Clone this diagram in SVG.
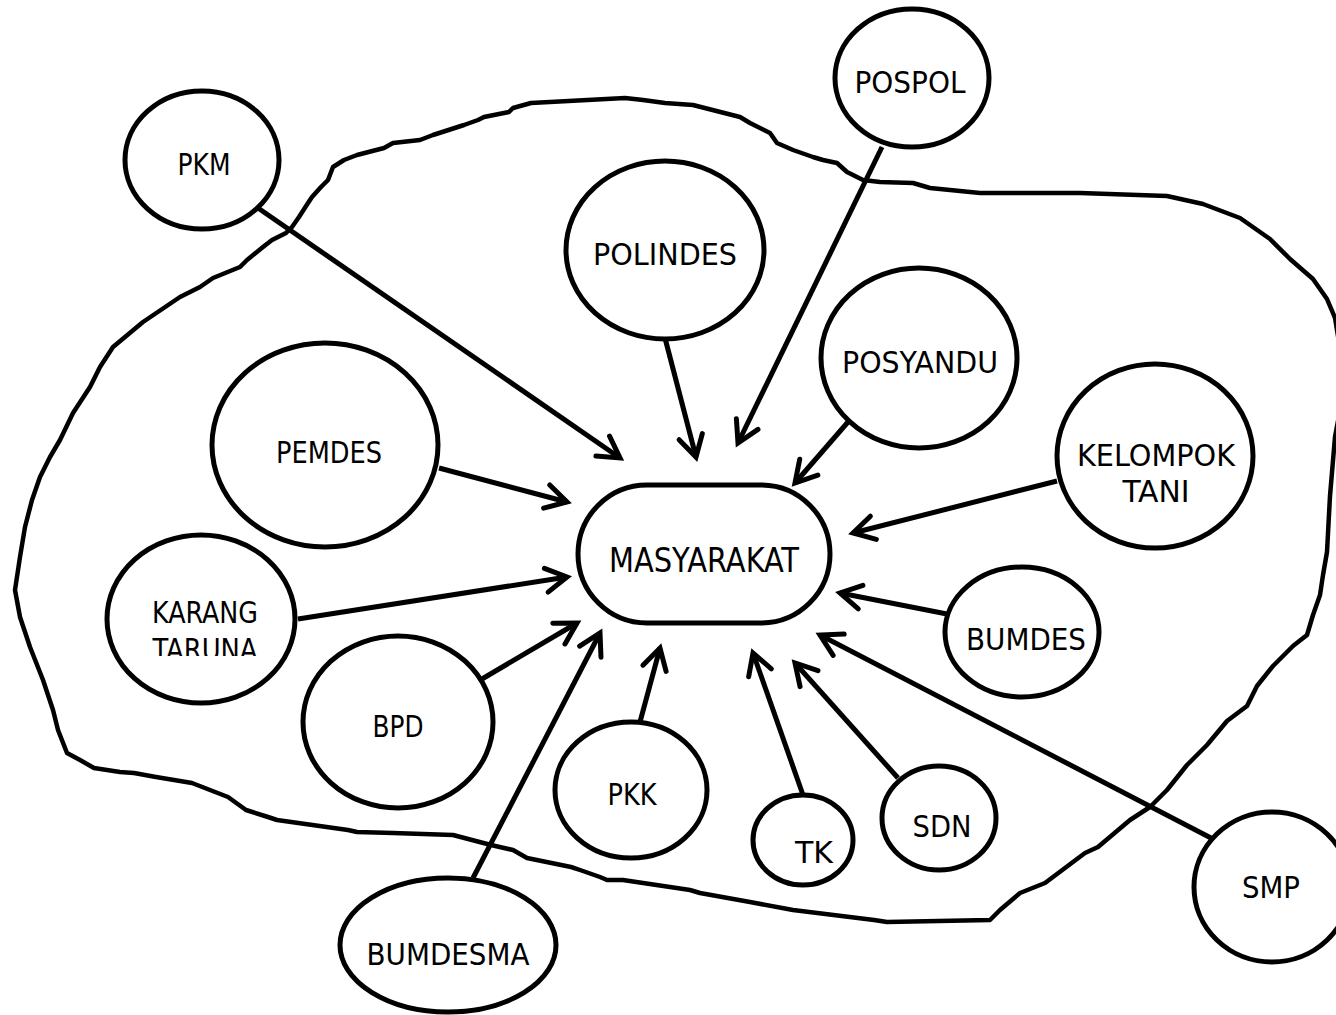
<svg xmlns="http://www.w3.org/2000/svg" width="1336" height="1015" viewBox="0 0 1336 1015">
<style>
.node{fill:#fff;stroke:#000;stroke-width:5}
.lbl{font-family:"DejaVu Sans Condensed","DejaVu Sans",sans-serif;font-stretch:condensed;font-size:30px;fill:#000;text-anchor:middle}
.edge{stroke:#000;stroke-width:5;fill:none;marker-end:url(#arr)}
.bound{fill:none;stroke:#000;stroke-width:4.5;stroke-linejoin:round}
</style>
<defs>
<marker id="arr" markerUnits="userSpaceOnUse" viewBox="-30 -20 40 40" markerWidth="40" markerHeight="40" refX="0" refY="0" orient="auto" overflow="visible">
<path d="M-21,-12 L0,0 L-21,12" fill="none" stroke="#000" stroke-width="5" stroke-linecap="round" stroke-linejoin="miter"/>
</marker>
<clipPath id="clipTaruna"><rect x="100" y="600" width="210" height="56"/></clipPath>
</defs>
<rect width="1336" height="1015" fill="#fff"/>
<polygon class="bound" points="531,103 625,98 643,100 665,103 693,105 740,117 750,123 770,133 777,143 793,150 813,157 823,160 837,163 847,172 863,180 880,182 913,183 930,188 980,193 1080,193 1167,196 1203,204 1240,218 1270,239 1290,259 1313,279 1327,299 1335,318 1342,360 1342,400 1335,437 1330,496 1327,552 1323,575 1320,595 1313,615 1307,635 1293,646 1273,666 1257,686 1247,706 1227,721 1207,745 1187,765 1167,790 1150,807 1130,820 1098,847 1085,853 1045,883 1020,893 1000,910 990,920 887,922 874,920 793,910 750,902 700,893 690,890 623,880 607,880 600,877 580,870 571,867 527,858 513,850 491,845 453,835 393,833 357,832 348,830 277,820 268,817 246,810 228,797 210,790 192,783 156,777 134,773 120,772 94,768 80,760 67,753 58,730 53,710 43,680 30,647 20,617 15,590 20,557 25,527 32,500 40,477 50,457 60,440 73,413 90,387 100,367 113,347 143,322 180,297 200,287 213,278 240,267 247,260 263,247 272,240 286,233 292,227 299,217 308,203 312,197 321,187 328,180 333,167 344,160 357,155 384,148 393,143 420,140 433,135 464,125 478,120 484,117 509,112 513,108"/>
<g id="connectors">
<line class="edge" x1="258" y1="208" x2="620" y2="458"/>
<line class="edge" x1="665" y1="338" x2="696" y2="457"/>
<line class="edge" x1="882" y1="147" x2="738" y2="443"/>
<line class="edge" x1="848" y1="422" x2="795" y2="483"/>
<line class="edge" x1="1057" y1="481" x2="853" y2="533"/>
<line class="edge" x1="947" y1="614" x2="840" y2="593"/>
<line class="edge" x1="1211" y1="838" x2="820" y2="635"/>
<line class="edge" x1="898" y1="778" x2="795" y2="663"/>
<line class="edge" x1="803" y1="795" x2="753" y2="653"/>
<line class="edge" x1="640" y1="722" x2="660" y2="648"/>
<line class="edge" x1="473" y1="878" x2="600" y2="633"/>
<line class="edge" x1="482" y1="679" x2="577" y2="623"/>
<line class="edge" x1="298" y1="619" x2="567" y2="577"/>
<line class="edge" x1="439" y1="468" x2="567" y2="502"/>
</g>
<g id="masyarakat"><rect class="node" x="578" y="485" width="252" height="138" rx="69" ry="69"/><text class="lbl" x="704" y="572" style="font-size:33px" textLength="190" lengthAdjust="spacingAndGlyphs">MASYARAKAT</text></g>
<g id="pkm"><ellipse class="node" cx="202" cy="160" rx="77" ry="69"/><text class="lbl" x="204" y="175" textLength="53" lengthAdjust="spacingAndGlyphs">PKM</text></g>
<g id="pospol"><ellipse class="node" cx="912" cy="78" rx="77" ry="69"/><text class="lbl" x="910" y="93" textLength="111" lengthAdjust="spacingAndGlyphs">POSPOL</text></g>
<g id="polindes"><ellipse class="node" cx="665" cy="250" rx="99" ry="89"/><text class="lbl" x="665" y="265" textLength="144" lengthAdjust="spacingAndGlyphs">POLINDES</text></g>
<g id="posyandu"><ellipse class="node" cx="919" cy="358" rx="98" ry="90"/><text class="lbl" x="920" y="373" textLength="156" lengthAdjust="spacingAndGlyphs">POSYANDU</text></g>
<g id="kelompok-tani"><ellipse class="node" cx="1155" cy="456" rx="98" ry="92"/><text class="lbl" x="1156" y="466" textLength="158" lengthAdjust="spacingAndGlyphs">KELOMPOK</text><text class="lbl" x="1156" y="502" textLength="67" lengthAdjust="spacingAndGlyphs">TANI</text></g>
<g id="pemdes"><ellipse class="node" cx="325" cy="445" rx="113" ry="102"/><text class="lbl" x="329" y="463" textLength="106" lengthAdjust="spacingAndGlyphs">PEMDES</text></g>
<g id="karang-taruna"><ellipse class="node" cx="201" cy="619" rx="94" ry="84"/><text class="lbl" x="205" y="623" textLength="106" lengthAdjust="spacingAndGlyphs">KARANG</text><text class="lbl" x="205" y="660" textLength="105" lengthAdjust="spacingAndGlyphs" clip-path="url(#clipTaruna)">TARUNA</text></g>
<g id="bpd"><ellipse class="node" cx="398" cy="722" rx="95" ry="86"/><text class="lbl" x="398" y="737" textLength="51" lengthAdjust="spacingAndGlyphs">BPD</text></g>
<g id="pkk"><ellipse class="node" cx="631" cy="790" rx="76" ry="68"/><text class="lbl" x="632" y="805" textLength="49" lengthAdjust="spacingAndGlyphs">PKK</text></g>
<g id="tk"><ellipse class="node" cx="803" cy="840" rx="50" ry="45"/><text class="lbl" x="814" y="863" textLength="38" lengthAdjust="spacingAndGlyphs">TK</text></g>
<g id="sdn"><ellipse class="node" cx="939" cy="818" rx="57" ry="52"/><text class="lbl" x="942" y="837" textLength="59" lengthAdjust="spacingAndGlyphs">SDN</text></g>
<g id="smp"><ellipse class="node" cx="1272" cy="887" rx="78" ry="75"/><text class="lbl" x="1271" y="898" textLength="58" lengthAdjust="spacingAndGlyphs">SMP</text></g>
<g id="bumdes"><ellipse class="node" cx="1022" cy="632" rx="77" ry="65"/><text class="lbl" x="1026" y="650" textLength="120" lengthAdjust="spacingAndGlyphs">BUMDES</text></g>
<g id="bumdesma"><ellipse class="node" cx="448" cy="945" rx="108" ry="67"/><text class="lbl" x="448" y="965" textLength="163" lengthAdjust="spacingAndGlyphs">BUMDESMA</text></g>
</svg>
